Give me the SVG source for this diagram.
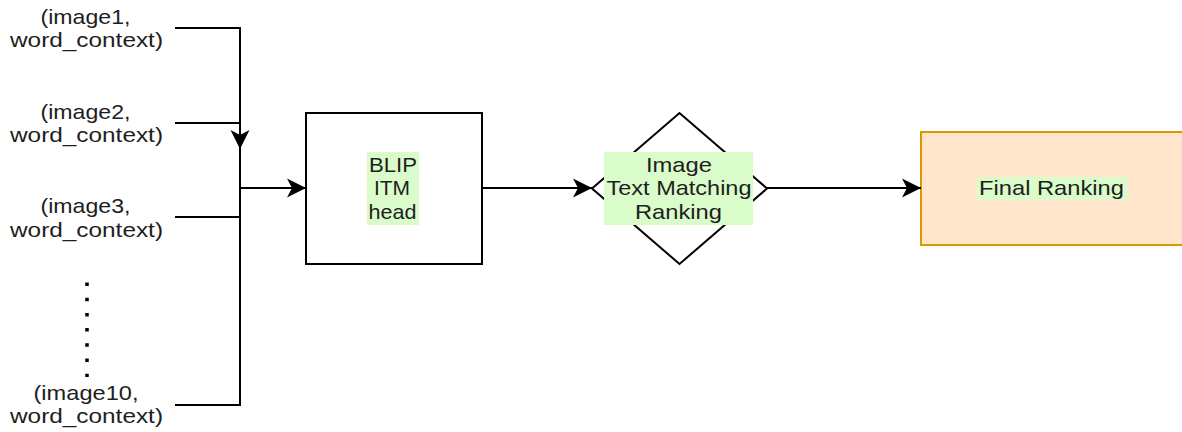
<svg xmlns="http://www.w3.org/2000/svg" width="1182" height="432" viewBox="0 0 1182 432">
  <style>
    text { font-family: "Liberation Sans", Arial, sans-serif; font-size: 21px; fill: #1e1e1e; text-anchor: middle; }
    .line { fill: none; stroke: #000; stroke-width: 2; }
    .shape { fill: #fff; stroke: #000; stroke-width: 2; }
    .lbl { fill: #d9fcca; }
  </style>
  <defs>
    <marker id="arrow" viewBox="0 0 20 20" refX="19" refY="10" markerWidth="20" markerHeight="20" markerUnits="userSpaceOnUse" orient="auto">
      <path d="M19,10 L0,0.5 L5,10 L0,19.5 Z" fill="#000"/>
    </marker>
  </defs>

  <rect width="1182" height="432" fill="#fff"/>

  <!-- input pairs -->
  <g id="input1">
    <text x="85.5" y="24" textLength="90" lengthAdjust="spacingAndGlyphs">(image1,</text>
    <text x="86.5" y="47" textLength="153" lengthAdjust="spacingAndGlyphs">word_context)</text>
  </g>
  <g id="input2">
    <text x="85.5" y="118.5" textLength="90" lengthAdjust="spacingAndGlyphs">(image2,</text>
    <text x="86.5" y="142" textLength="153" lengthAdjust="spacingAndGlyphs">word_context)</text>
  </g>
  <g id="input3">
    <text x="85.5" y="213" textLength="90" lengthAdjust="spacingAndGlyphs">(image3,</text>
    <text x="86.5" y="236.5" textLength="153" lengthAdjust="spacingAndGlyphs">word_context)</text>
  </g>
  <g id="ellipsis">
    <path d="M87,282.5 V377" fill="none" stroke="#000" stroke-width="3.5" stroke-dasharray="3.5 11.7"/>
  </g>
  <g id="input10">
    <text x="86" y="400" textLength="105" lengthAdjust="spacingAndGlyphs">(image10,</text>
    <text x="86.5" y="423" textLength="153" lengthAdjust="spacingAndGlyphs">word_context)</text>
  </g>

  <!-- BLIP ITM head -->
  <g id="blip">
    <rect class="shape" x="306" y="113" width="176" height="151"/>
    <rect class="lbl" x="367" y="152" width="52" height="73"/>
    <text x="393" y="171.5" textLength="48" lengthAdjust="spacingAndGlyphs">BLIP</text>
    <text x="392" y="195">ITM</text>
    <text x="392.5" y="218.5" textLength="48" lengthAdjust="spacingAndGlyphs">head</text>
  </g>

  <!-- ranking decision -->
  <g id="matching">
    <polygon class="shape" points="592,188.5 679.5,113 767,188.5 679.5,264"/>
    <rect class="lbl" x="604" y="152" width="149" height="73"/>
    <text x="679" y="171.5" textLength="66" lengthAdjust="spacingAndGlyphs">Image</text>
    <text x="679" y="195" textLength="145" lengthAdjust="spacingAndGlyphs">Text Matching</text>
    <text x="678.5" y="218.5" textLength="87" lengthAdjust="spacingAndGlyphs">Ranking</text>
  </g>

  <!-- final output -->
  <g id="final">
    <rect x="921" y="132" width="280" height="113" fill="#ffe6cc" stroke="#d79b00" stroke-width="2"/>
    <rect class="lbl" x="977" y="177" width="150" height="23"/>
    <text x="1051.5" y="195" textLength="145" lengthAdjust="spacingAndGlyphs">Final Ranking</text>
  </g>

  <!-- connectors -->
  <g id="connectors">
    <path class="line" d="M175,28 H240 V405 H175"/>
    <path class="line" d="M175,123 H240"/>
    <path class="line" d="M175,217 H240"/>
    <path class="line" d="M240,128 V149" marker-end="url(#arrow)"/>
    <path class="line" d="M240,188 H306" marker-end="url(#arrow)"/>
    <path class="line" d="M482,188 H592" marker-end="url(#arrow)"/>
    <path class="line" d="M767,188 H921" marker-end="url(#arrow)"/>
  </g>
</svg>
